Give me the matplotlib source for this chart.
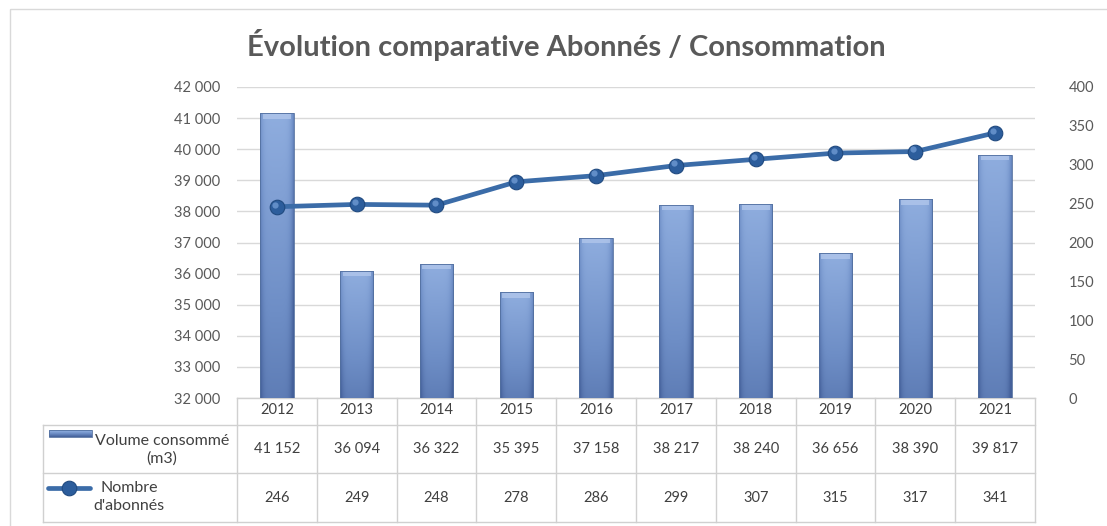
import numpy as np
import matplotlib
matplotlib.use("Agg")
import matplotlib.pyplot as plt
from matplotlib.patches import Rectangle
from matplotlib.colors import LinearSegmentedColormap
from matplotlib import transforms

plt.rcParams['font.family'] = ['Lato', 'DejaVu Sans']

# Data
years = ['2012', '2013', '2014', '2015', '2016', '2017', '2018', '2019', '2020', '2021']
volume = [41152, 36094, 36322, 35395, 37158, 38217, 38240, 36656, 38390, 39817]
abonnes = [246, 249, 248, 278, 286, 299, 307, 315, 317, 341]

vol_label = 'Volume consommé\n(m3)'
abo_label = 'Nombre\nd\'abonnés'
title = 'Évolution comparative Abonnés / Consommation'

W, H = 1107, 526
fig = plt.figure(figsize=(W / 100, H / 100), dpi=100)
fig.patch.set_facecolor('white')

# plot area in pixels
px_left, px_right, px_top, px_bot = 237, 1035, 87, 398
ax = fig.add_axes([px_left / W, 1 - px_bot / H, (px_right - px_left) / W, (px_bot - px_top) / H])
ax.set_xlim(-0.5, len(years) - 0.5)
ax.set_ylim(32000, 42000)
ax.set_yticks(np.arange(32000, 42001, 1000))
ax.set_yticklabels([f'{v:,}'.replace(',', ' ') for v in range(32000, 42001, 1000)])
ax.yaxis.grid(True, color='#d9d9d9', lw=1)
ax.set_axisbelow(True)
ax.tick_params(axis='y', length=0, pad=12, labelsize=10.5, labelcolor='#595959')
ax.tick_params(axis='x', length=0, labelbottom=False)
for s in ax.spines.values():
    s.set_visible(False)
ax.patch.set_alpha(0)

# bar shading: vertical light->dark plus darker edges
bar_cmap = LinearSegmentedColormap.from_list('bar', ['#44609a', '#6e8ec6', '#95b3e3'])
bw = 0.42
for i, v in enumerate(volume):
    x0 = i - bw / 2
    rect = Rectangle((x0, 32000), bw, v - 32000, fc='none', ec='none')
    ax.add_patch(rect)
    yy = np.linspace(0, 1, 120)[:, None]
    xx = np.linspace(-1, 1, 40)[None, :]
    grad = 0.32 + 0.6 * yy - 0.4 * np.abs(xx) ** 6 - 0.12 * np.clip(xx, 0, 1) ** 4
    grad = np.clip(grad, 0, 1)
    im = ax.imshow(grad, cmap=bar_cmap, vmin=0, vmax=1, origin='lower', aspect='auto',
                   extent=[x0, x0 + bw, 32000, v], interpolation='bilinear', zorder=2)
    im.set_clip_path(rect)
    # lighter bevel on top of each bar
    ax.add_patch(Rectangle((x0 + bw * 0.08, v - 180), bw * 0.84, 150, fc='#b3c8ec',
                           ec='none', alpha=0.75, zorder=3))
    ax.add_patch(Rectangle((x0, 32000), bw, v - 32000, fc='none', ec='#53709f', lw=0.6, zorder=3))

# subscribers on the secondary axis
ax2 = ax.twinx()
ax2.set_ylim(0, 400)
ax2.set_yticks(np.arange(0, 401, 50))
ax2.tick_params(axis='y', length=0, pad=24, labelsize=10.5, labelcolor='#595959')
for s in ax2.spines.values():
    s.set_visible(False)
xs = np.arange(len(years))
ax2.plot(xs, abonnes, color='#3b6ca8', lw=3.4, solid_capstyle='round', zorder=4)
ax2.plot(xs, abonnes, ls='none', marker='o', ms=10.5, mfc='#2c5d9c', mec='#204a80', mew=0.8, zorder=5)
hl = transforms.offset_copy(ax2.transData, fig=fig, x=-1.3, y=1.6, units='points')
ax2.plot(xs, abonnes, ls='none', marker='o', ms=4.5, mfc='#6f9ad3', mec='none', alpha=0.8,
         transform=hl, zorder=6)

# overlay in pixel coordinates for title, border and the data table
ov = fig.add_axes([0, 0, 1, 1], zorder=-1)
ov.axis('off')
ov.patch.set_alpha(0)

ov.add_patch(Rectangle((10, 9), 1130, 530, fc='none', ec='#d9d9d9', lw=1))
ov.text(566, 45, title, ha='center', va='center', fontsize=21, fontweight='bold', color='#595959')

line_c = '#d0d0d0'
col_w = (px_right - px_left) / len(years)
y_head, y_r1, y_r2, y_end = 398, 425, 473, 522
lab_left = 43
ov.plot([px_left, px_right], [y_head, y_head], color=line_c, lw=1)
for y in (y_r1, y_r2, y_end):
    ov.plot([lab_left, px_right], [y, y], color=line_c, lw=1)
ov.plot([lab_left, lab_left], [y_r1, y_end], color=line_c, lw=1)
for k in range(len(years) + 1):
    x = px_left + k * col_w
    ov.plot([x, x], [y_head, y_end], color=line_c, lw=1)

txt_kw = dict(ha='center', va='center', fontsize=10.5, color='#404040')
for i, yr in enumerate(years):
    cx = px_left + (i + 0.5) * col_w
    ov.text(cx, (y_head + y_r1) / 2 - 1, yr, **txt_kw)
    ov.text(cx, (y_r1 + y_r2) / 2, f'{volume[i]:,}'.replace(',', ' '), **txt_kw)
    ov.text(cx, (y_r2 + y_end) / 2, str(abonnes[i]), **txt_kw)

# row labels with legend keys
lab_kw = dict(txt_kw, fontsize=11.5, multialignment='center')
ov.text(162, 450, vol_label, linespacing=1.25, **lab_kw)
key_grad = np.linspace(1, 0, 20)[:, None] * np.ones((1, 10))
ov.imshow(key_grad, cmap=bar_cmap, vmin=0, vmax=1, aspect='auto',
          extent=[49, 92, 437, 430], interpolation='bilinear', zorder=2)
ov.add_patch(Rectangle((49, 430), 43, 7, fc='none', ec='#53709f', lw=0.6, zorder=3))

ov.text(129, 497, abo_label, linespacing=1.45, **lab_kw)
ov.plot([48, 90], [488, 488], color='#3b6ca8', lw=3.4, solid_capstyle='round')
ov.plot([69], [488], marker='o', ms=10.5, mfc='#2c5d9c', mec='#204a80', mew=0.8)

ov.set_xlim(0, W)
ov.set_ylim(H, 0)

fig.savefig('out.png', dpi=100)
